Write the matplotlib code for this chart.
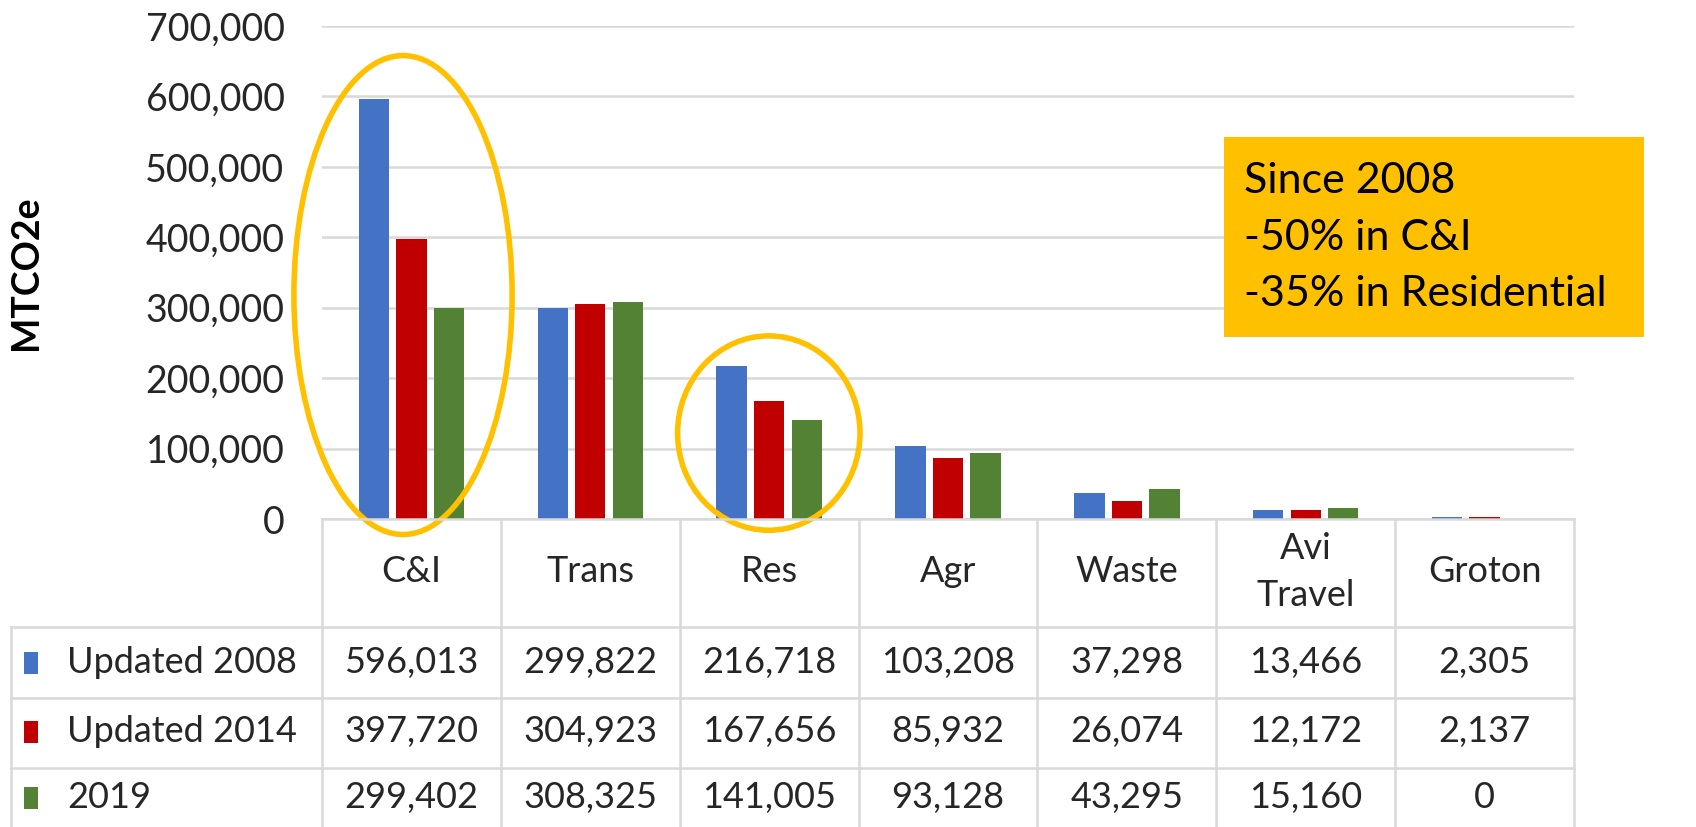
import matplotlib
matplotlib.use("Agg")
import matplotlib.pyplot as plt
from matplotlib.patches import Ellipse, Rectangle
from matplotlib.ticker import FuncFormatter

categories = ["C&I", "Trans", "Res", "Agr", "Waste", "Avi\nTravel", "Groton"]
series_names = ["Updated 2008", "Updated 2014", "2019"]
updated_2008 = [596013, 299822, 216718, 103208, 37298, 13466, 2305]
updated_2014 = [397720, 304923, 167656, 85932, 26074, 12172, 2137]
y2019 = [299402, 308325, 141005, 93128, 43295, 15160, 0]
colors = ["#4472C4", "#C00000", "#548235"]
yticks = [0, 100000, 200000, 300000, 400000, 500000, 600000, 700000]
note_lines = ["Since 2008", "-50% in C&I", "-35% in Residential"]

W, H = 1696, 827
plt.rcParams['font.family'] = ['Lato', 'DejaVu Sans']
fig = plt.figure(figsize=(W / 100, H / 100), dpi=100)

# main axes in pixel-derived fractions
left_px, right_px, top_px, bot_px = 322, 1574, 26, 519
ax = fig.add_axes([left_px / W, (H - bot_px) / H, (right_px - left_px) / W, (bot_px - top_px) / H])
n = len(categories)
ax.set_xlim(-0.5, n - 0.5)
ax.set_ylim(0, 700000)
series = [updated_2008, updated_2014, y2019]
bw = 0.17
offs = [-0.21, 0.0, 0.21]
for s, vals in enumerate(series):
    ax.bar([i + offs[s] for i in range(n)], vals, width=bw, color=colors[s], zorder=3)
ax.set_yticks(yticks)
ax.yaxis.set_major_formatter(FuncFormatter(lambda v, p: f"{int(v):,}"))
ax.tick_params(axis='y', length=0, pad=27, labelsize=27, labelcolor='#262626')
ax.set_xticks([])
ax.grid(axis='y', color='#D9D9D9', lw=1.8, zorder=0)
for sp in ax.spines.values():
    sp.set_visible(False)
ax.set_ylabel("MTCO2e", fontsize=27, fontweight='bold', color='#000000')
ax.yaxis.set_label_coords(-0.223, 0.5)

# ellipses
ax.add_patch(Ellipse((-0.047, 318000), 1.22, 680000, fill=False, edgecolor='#FFC000', lw=4, clip_on=False, zorder=5))
ax.add_patch(Ellipse((1.998, 122000), 1.02, 276000, fill=False, edgecolor='#FFC000', lw=4, clip_on=False, zorder=5))

# data table
cat_px = (right_px - left_px) / n
leg_w = (left_px - 11) / cat_px
tax = fig.add_axes([11 / W, 0, (right_px - 11) / W, (H - bot_px) / H])
tax.set_xlim(-0.5 - leg_w, n - 0.5)
tax.set_ylim(H, bot_px)
tax.axis('off')
gc = '#D9D9D9'
glw = 1.8
row_lines = [627, 698, 768]
tax.plot([-0.5, n - 0.5], [bot_px, bot_px], color=gc, lw=glw, clip_on=False)
for yl in row_lines:
    tax.plot([-0.5 - leg_w, n - 0.5], [yl, yl], color=gc, lw=glw, clip_on=False)
for k in range(n + 1):
    tax.plot([-0.5 + k, -0.5 + k], [bot_px, H], color=gc, lw=glw, clip_on=False)
tax.plot([-0.5 - leg_w, -0.5 - leg_w], [627, H], color=gc, lw=glw, clip_on=False)

fs_tab = 26
for i, c in enumerate(categories):
    tax.text(i, (bot_px + 627) / 2 - 1, c, ha='center', va='center', fontsize=fs_tab,
             color='#262626', linespacing=1.55)
row_centers = [663, 732, 798]
for s, vals in enumerate(series):
    yc = row_centers[s]
    for i, v in enumerate(vals):
        tax.text(i, yc, f"{v:,}", ha='center', va='center', fontsize=fs_tab, color='#262626')
    x0 = -0.5 - leg_w + 13 / cat_px
    tax.add_patch(Rectangle((x0, yc - 11), 14 / cat_px, 22,
                            facecolor=colors[s], edgecolor='none'))
    tax.text(-0.5 - leg_w + 56 / cat_px, yc, series_names[s], ha='left',
             va='center', fontsize=fs_tab, color='#262626')

# annotation box
fig.patches.append(Rectangle((1224 / W, (H - 337) / H), 420 / W, 200 / H,
                             transform=fig.transFigure, facecolor='#FFC000', edgecolor='none', zorder=6))
for j, t in enumerate(note_lines):
    fig.text(1244 / W, (H - [181, 238, 294][j]) / H, t, ha='left', va='center', fontsize=31,
             color='#000000', zorder=7)

fig.savefig("out.png", dpi=100, facecolor='white')
